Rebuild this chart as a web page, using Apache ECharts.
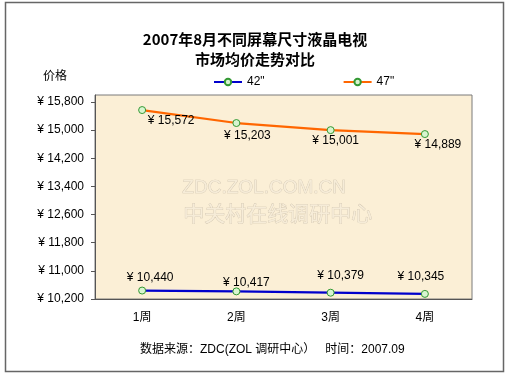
<!DOCTYPE html>
<html lang="zh">
<head>
    <meta charset="UTF-8">
    <script src="https://cdn.jsdelivr.net/npm/echarts@6/dist/echarts.min.js"></script>
    <title>液晶电视市场均价走势</title>
    <style>
        html, body { margin: 0; padding: 0; background: #fff; }
    </style>
</head>
<body>
<div id="main" style="width:510px;height:376px;"></div>
<script type="text/javascript">
    // 数据
    var weeks = ['1周', '2周', '3周', '4周'];
    var price42 = [10440, 10417, 10379, 10345];
    var price47 = [15572, 15203, 15001, 14889];
    var seriesNames = ['42"', '47"'];

    // 标签偏移（仿原图的位置）
    var offset42 = [[8, 2], [10, 6], [10, -2], [-4, -2]];
    var offset47 = [[29, -4], [11, -2], [5, -4], [13, -4]];

    var font = 'Arial, "Liberation Sans", "Noto Sans CJK SC", sans-serif';

    function money(v) {
        return '¥ ' + String(v).replace(/\B(?=(\d{3})+(?!\d))/g, ',');
    }

    function withOffsets(values, offsets) {
        return values.map(function (v, i) {
            return { value: v, label: { offset: offsets[i] } };
        });
    }

    var myChart = echarts.init(document.getElementById('main'));

    var marker = {
        color: '#d8f5d0',
        borderColor: '#339933',
        borderWidth: 1
    };

    var option = {
        animation: false,
        title: [{
            text: '2007年8月不同屏幕尺寸液晶电视\n市场均价走势对比',
            left: 'center',
            top: 24,
            textStyle: {
                fontFamily: '"Noto Sans CJK SC", sans-serif',
                fontSize: 15,
                fontWeight: 'bold',
                lineHeight: 20,
                color: '#000'
            }
        }, {
            text: '价格',
            left: 38,
            top: 66,
            textStyle: { fontFamily: font, fontSize: 12, fontWeight: 'normal', color: '#000' }
        }, {
            text: '数据来源：ZDC(ZOL 调研中心）   时间：2007.09',
            left: 135,
            top: 339,
            textStyle: { fontFamily: font, fontSize: 12, fontWeight: 'normal', color: '#000' }
        }],
        legend: {
            data: seriesNames,
            left: 208,
            top: 71,
            itemWidth: 28,
            itemHeight: 8,
            itemGap: 78,
            textStyle: { fontFamily: font, fontSize: 12, color: '#000' }
        },
        grid: {
            left: 95,
            right: 38,
            top: 95,
            bottom: 77,
            show: true,
            backgroundColor: '#fbefd6',
            borderColor: '#7a7a7a',
            borderWidth: 1
        },
        graphic: [{
            type: 'rect',
            shape: { x: 5.5, y: 2.5, width: 498, height: 369 },
            style: { fill: 'none', stroke: '#666', lineWidth: 1.5 },
            silent: true
        }, {
            type: 'text',
            left: 182,
            top: 178,
            z: 1,
            style: {
                text: 'ZDC.ZOL.COM.CN',
                font: '19px Arial, sans-serif',
                fill: '#f6ecd8',
                stroke: '#cfc3ae',
                lineWidth: 0.7
            },
            silent: true
        }, {
            type: 'text',
            left: 183,
            top: 202,
            z: 1,
            style: {
                text: '中关村在线调研中心',
                font: '21px "Noto Sans CJK SC", sans-serif',
                fill: '#f6ecd8',
                stroke: '#cfc3ae',
                lineWidth: 0.7
            },
            silent: true
        }],
        xAxis: {
            type: 'category',
            data: weeks,
            boundaryGap: true,
            axisLine: { lineStyle: { color: '#555', width: 1 } },
            axisTick: { inside: true, length: 4, lineStyle: { color: '#555' } },
            axisLabel: { margin: 13, fontFamily: font, fontSize: 12, color: '#000' },
            splitLine: { show: false }
        },
        yAxis: {
            type: 'value',
            min: 10200,
            max: 16000,
            interval: 800,
            axisLine: { show: true, lineStyle: { color: '#555', width: 1 } },
            axisTick: { show: true, length: 4, lineStyle: { color: '#555' } },
            axisLabel: {
                showMaxLabel: false,
                margin: 11,
                fontFamily: font,
                fontSize: 12,
                color: '#000',
                formatter: money
            },
            splitLine: { show: false }
        },
        series: [{
            name: seriesNames[0],
            type: 'line',
            data: withOffsets(price42, offset42),
            symbol: 'circle',
            symbolSize: 7,
            lineStyle: { color: '#0000cc', width: 2.2 },
            itemStyle: marker,
            label: {
                show: true,
                position: 'top',
                formatter: function (p) { return money(p.value); },
                fontFamily: font,
                fontSize: 12,
                color: '#000'
            }
        }, {
            name: seriesNames[1],
            type: 'line',
            data: withOffsets(price47, offset47),
            symbol: 'circle',
            symbolSize: 7,
            lineStyle: { color: '#ff6600', width: 2.2 },
            itemStyle: marker,
            label: {
                show: true,
                position: 'bottom',
                formatter: function (p) { return money(p.value); },
                fontFamily: font,
                fontSize: 12,
                color: '#000'
            }
        }]
    };

    myChart.setOption(option);
</script>
</body>
</html>
